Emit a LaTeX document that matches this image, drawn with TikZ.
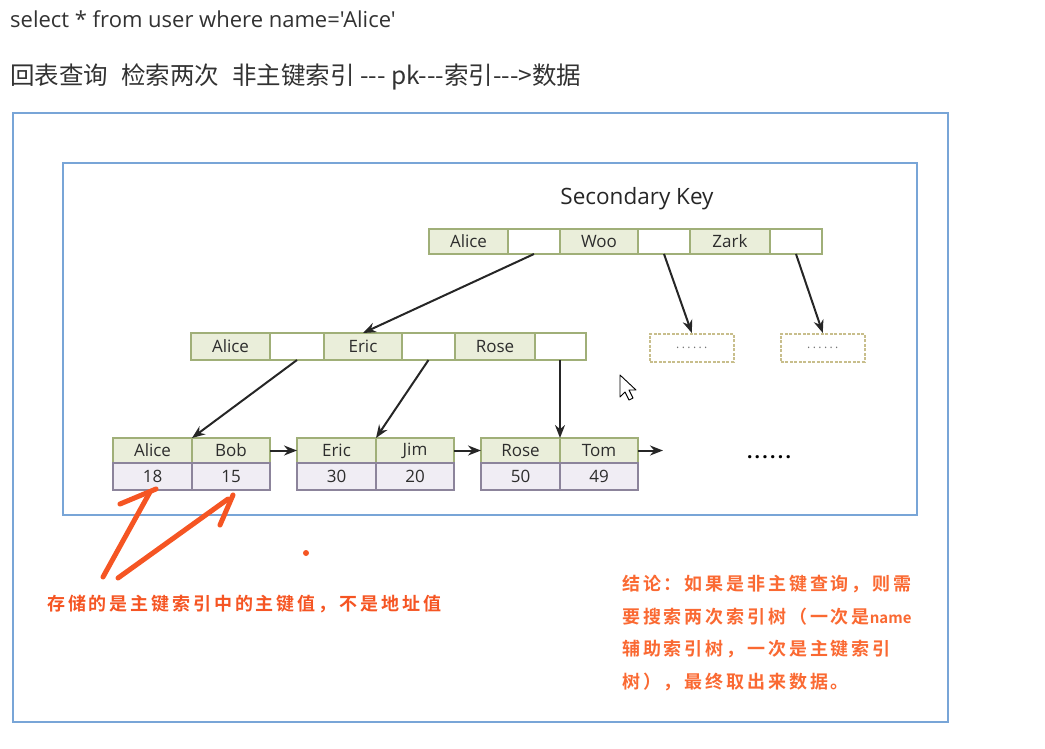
\documentclass[tikz,border=0pt]{standalone}
\usepackage{fontspec}
\setmainfont{Open Sans}
\newfontfamily\sqlfont[Ligatures=TeXOff]{Open Sans}
\newfontfamily\cjk{Noto Sans CJK SC}
\newfontfamily\cjknote[LetterSpace=16]{Noto Sans CJK SC Bold}
\newfontfamily\cjkplain{Noto Sans CJK SC Bold}
\usetikzlibrary{arrows.meta}
\definecolor{keyfill}{RGB}{234,238,218}
\definecolor{keyline}{RGB}{160,175,120}
\definecolor{valfill}{RGB}{240,237,244}
\definecolor{valline}{RGB}{140,132,155}
\definecolor{celltext}{RGB}{45,45,45}
\definecolor{frameblue}{RGB}{120,165,215}
\definecolor{notered}{RGB}{245,85,35}
\definecolor{noteorange}{RGB}{250,105,50}
\definecolor{dashline}{RGB}{200,190,140}
\definecolor{pagetext}{RGB}{50,50,50}
\tikzset{
  cell/.style={draw=keyline, line width=1.3pt, minimum height=25pt, inner sep=0pt,
    outer sep=0pt, anchor=north west, text=celltext, font=\fontsize{17}{17}\selectfont},
  keycell/.style={cell, fill=keyfill, minimum width=#1},
  ptrcell/.style={cell, fill=white, minimum width=#1},
  valcell/.style={cell, draw=valline, fill=valfill, minimum width=#1, minimum height=27pt},
  dotbox/.style={draw=dashline, line width=1.6pt, dash pattern=on 3pt off 1.5pt,
    minimum width=84pt, minimum height=28pt, inner sep=0pt, anchor=north west,
    text=black!55, font=\fontsize{12}{12}\selectfont\addfontfeatures{LetterSpace=20}},
  link/.style={-{Stealth[length=13pt,width=10pt]}, line width=2pt, draw=black!85},
  frame/.style={draw=frameblue, line width=1.3pt},
  hand/.style={draw=notered, line width=5pt, line cap=round},
  note/.style={anchor=base west, inner sep=0pt, font=\cjknote\fontsize{18}{18}\selectfont}
}
\begin{document}
\begin{tikzpicture}[x=1pt, y=-1pt]
\useasboundingbox (0,0) rectangle (1045,748);

% page text
\node[anchor=base west, inner sep=0pt, text=pagetext, font=\sqlfont\fontsize{22}{22}\selectfont]
  (query) at (10,27) {select * from user where name='Alice'};
\node[anchor=base west, inner sep=0pt, text=pagetext, font=\cjk\fontsize{24.5}{24.5}\selectfont]
  (remark) at (10,84) {回表查询\hspace{13pt}检索两次\hspace{13pt}非主键索引 --- pk---索引---{}>数据};

% frames
\draw[frame] (13,113) rectangle (948,722);
\draw[frame] (63,163) rectangle (917,515);

\node[font=\fontsize{22.5}{22.5}\selectfont, text=black!85] (title) at (637,199) {Secondary Key};

% root
\node[keycell=79pt] (t1) at (429,229) {Alice};
\node[ptrcell=52pt] (t2) at (t1.north east) {};
\node[keycell=78pt] (t3) at (t2.north east) {Woo};
\node[ptrcell=52pt] (t4) at (t3.north east) {};
\node[keycell=80pt] (t5) at (t4.north east) {Zark};
\node[ptrcell=52pt] (t6) at (t5.north east) {};

% middle level
\node[keycell=79pt, minimum height=27pt] (m1) at (191,333) {Alice};
\node[ptrcell=54pt, minimum height=27pt] (m2) at (m1.north east) {};
\node[keycell=78pt, minimum height=27pt] (m3) at (m2.north east) {Eric};
\node[ptrcell=53pt, minimum height=27pt] (m4) at (m3.north east) {};
\node[keycell=80pt, minimum height=27pt] (m5) at (m4.north east) {Rose};
\node[ptrcell=51pt, minimum height=27pt] (m6) at (m5.north east) {};

\node[dotbox] (d1) at (649,333) {......};
\node[dotbox] (d2) at (780,333) {......};

% leaves
\foreach \n/\x/\ka/\kb/\va/\vb in {1/113/Alice/Bob/18/15, 2/297/Eric/Jim/30/20, 3/481/Rose/Tom/50/49} {
  \node[keycell=79pt] (l\n-k1) at (\x,438) {\ka};
  \node[keycell=78pt] (l\n-k2) at (l\n-k1.north east) {\kb};
  \node[valcell=79pt] (l\n-v1) at (l\n-k1.south west) {\va};
  \node[valcell=78pt] (l\n-v2) at (l\n-k2.south west) {\vb};
}
\coordinate (tail) at (663,450.5);
\node[font=\bfseries\fontsize{19}{19}\selectfont\addfontfeatures{LetterSpace=12}] (more) at (769,457) {......};

% tree links
\draw[link] (t2.south) -- (m3.north);
\draw[link] (t4.south) -- (d1.north);
\draw[link] (t6.south) -- (d2.north);
\draw[link] (m2.south) -- (l1-k1.north east);
\draw[link] (m4.south) -- (l2-k1.north east);
\draw[link] (m6.south -| l3-k1.north east) -- (l3-k1.north east);
\draw[link] (l1-k2.east) -- (l2-k1.west);
\draw[link] (l2-k2.east) -- (l3-k1.west);
\draw[link] (l3-k2.east) -- (tail);

% mouse pointer
\draw[fill=white, line width=0.9pt, line join=round] (620,375) -- (620,397) -- (625,392) -- (629,400)
  -- (633,398) -- (629,390) -- (636,390) -- cycle;

% hand-drawn notes
\draw[hand] (103,577) -- (150,492);
\draw[hand] (120,504) -- (156,489);
\draw[hand] (118,578) -- (228,499);
\draw[hand] (220,525) -- (233,495);
\fill[notered] (306,553) circle (3pt);

\node[note, text=notered] (keynote) at (47,610) {存储的是主键索引中的主键值，不是地址值};
\node[note, text=noteorange] (sum1) at (622,590) {结论：如果是非主键查询，则需};
\node[note, text=noteorange] (sum2) at (622,623) {要搜索两次索引树（一次是{\cjkplain\fontsize{15}{15}\selectfont name}};
\node[note, text=noteorange] (sum3) at (622,655) {辅助索引树，一次是主键索引};
\node[note, text=noteorange] (sum4) at (622,688) {树），最终取出来数据。};
\end{tikzpicture}
\end{document}
